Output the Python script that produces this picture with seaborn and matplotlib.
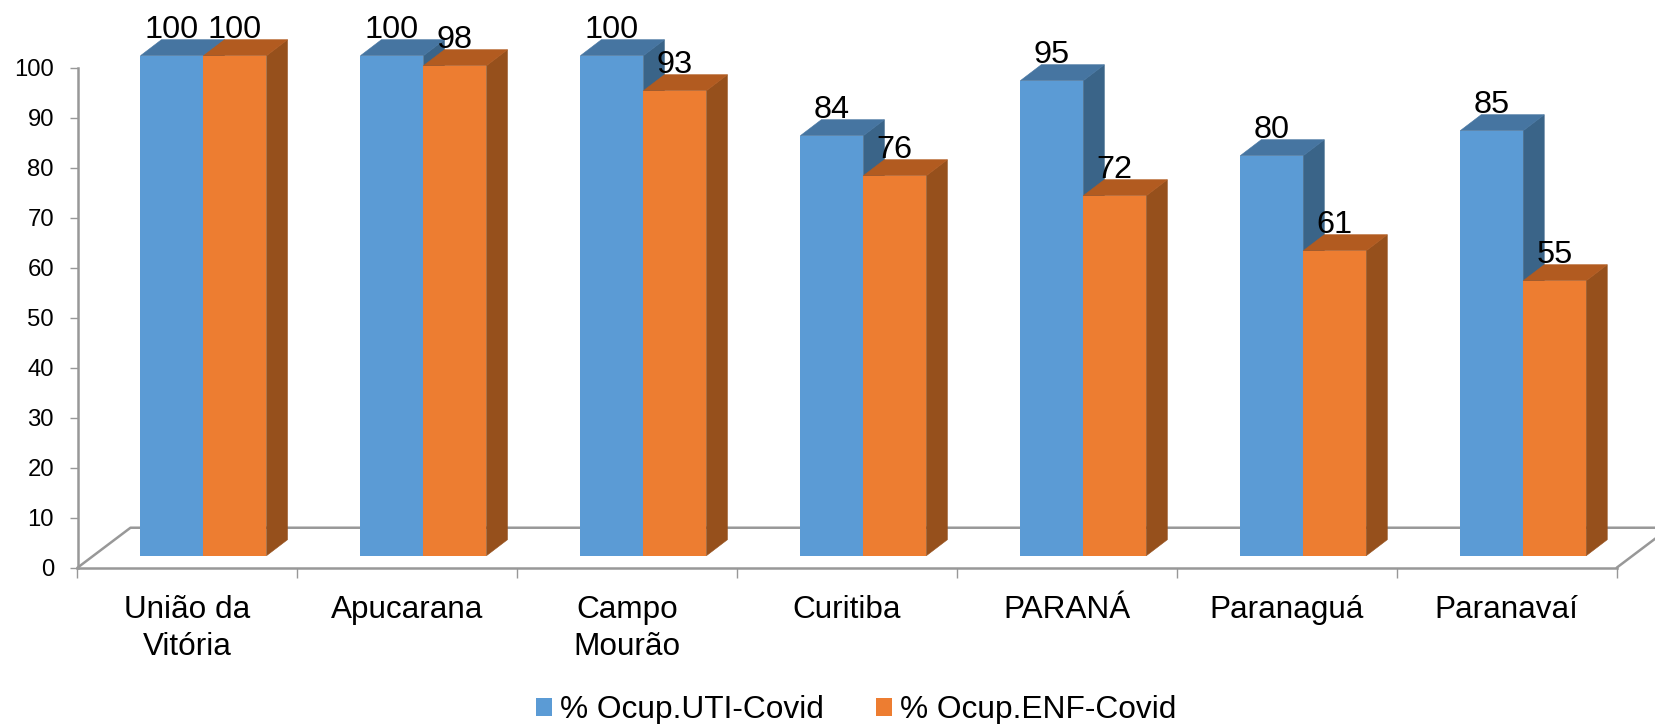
import matplotlib
matplotlib.use('Agg')
import matplotlib.pyplot as plt
from matplotlib.patches import Polygon
import numpy as np
import pandas as pd
import seaborn as sns

categories = ['União da\nVitória', 'Apucarana', 'Campo\nMourão', 'Curitiba', 'PARANÁ', 'Paranaguá', 'Paranavaí']
uti_values = [100, 100, 100, 84, 95, 80, 85]
enf_values = [100, 98, 93, 76, 72, 61, 55]
series_names = ['% Ocup.UTI-Covid', '% Ocup.ENF-Covid']
y_ticks = list(range(0, 101, 10))

W, H = 1655, 724
GREY = '#989898'
front_colors = ['#5B9BD5', '#ED7D31']
top_colors = ['#4675A1', '#B25B20']
side_colors = ['#3A6488', '#96501C']

sns.set_theme(style='white')
plt.rcParams['font.family'] = ['Liberation Sans', 'DejaVu Sans']


def px_axes(fig, left, right, top, bottom):
    return fig.add_axes([left/W, 1-bottom/H, (right-left)/W, (bottom-top)/H])


df = pd.DataFrame({
    'cat': categories*2,
    'serie': [series_names[0]]*7 + [series_names[1]]*7,
    'val': uti_values + enf_values,
})

fig = plt.figure(figsize=(W/100, H/100), dpi=100, facecolor='white')

# frame axes: the 0-100 scale and the floor of the fake 3D box
ax = px_axes(fig, 77.5, 1616.7, 68, 567.7)
ax.set_xlim(-0.5, 6.5)
ax.set_ylim(0, 100)
sns.despine(ax=ax)
for s in ['left', 'bottom']:
    ax.spines[s].set_color(GREY)
    ax.spines[s].set_linewidth(1.8)
ax.set_yticks(y_ticks)
ax.tick_params(axis='y', length=6, width=1, color=GREY, labelsize=17.2, pad=11, labelcolor='black', left=True)
ax.set_xticks(range(7))
ax.set_xticklabels(categories, fontsize=22.7, linespacing=1.3)
ax.set_xticks(np.arange(-0.5, 7), minor=True)
ax.tick_params(axis='x', which='major', length=0, pad=20, labelcolor='black')
ax.tick_params(axis='x', which='minor', length=7.5, width=1, color=GREY, bottom=True)
floor_dx, floor_dy = 53/219.9, 8
ax.plot([-0.5, -0.5+floor_dx, 6.5+floor_dx, 6.5], [0, floor_dy, floor_dy, 0],
        color=GREY, lw=1.8, clip_on=False, zorder=1)

# bar axes: same scale, shifted to the front of the box
bx = px_axes(fig, 93.5, 1633.2, 55.7, 555.7)
bx.patch.set_alpha(0)
sns.barplot(ax=bx, data=df, x='cat', y='val', hue='serie', hue_order=series_names,
            palette=front_colors, saturation=1, width=126/219.9, linewidth=0, zorder=3)
bx.set_xlim(-0.5, 6.5)
bx.set_ylim(0, 100)
bx.axis('off')

depth_dx, depth_dy = 21/219.9, 16/5
for k, cont in enumerate(bx.containers):
    for bar in cont:
        x0, w, h = bar.get_x(), bar.get_width(), bar.get_height()
        x1 = x0 + w
        top = [(x0, h), (x1, h), (x1+depth_dx, h+depth_dy), (x0+depth_dx, h+depth_dy)]
        side = [(x1, 0), (x1+depth_dx, depth_dy), (x1+depth_dx, h+depth_dy), (x1, h)]
        bx.add_patch(Polygon(side, fc=side_colors[k], ec=side_colors[k], lw=0.4, zorder=1+k*0.5, clip_on=False))
        bx.add_patch(Polygon(top, fc=top_colors[k], ec=top_colors[k], lw=0.4, zorder=1.2+k*0.5, clip_on=False))
    bx.bar_label(cont, fmt='%d', padding=8, fontsize=23.4, color='black', zorder=5, clip_on=False)

handles, labels = bx.get_legend_handles_labels()
bx.legend(handles, labels, ncols=2, loc='center', bbox_to_anchor=(856/W, 1-710/H),
          bbox_transform=fig.transFigure, frameon=False, fontsize=22.8,
          handlelength=0.5, handleheight=0.5, handletextpad=0.25, columnspacing=1.65,
          labelcolor='black')

fig.savefig('out.png', dpi=100, facecolor='white')
